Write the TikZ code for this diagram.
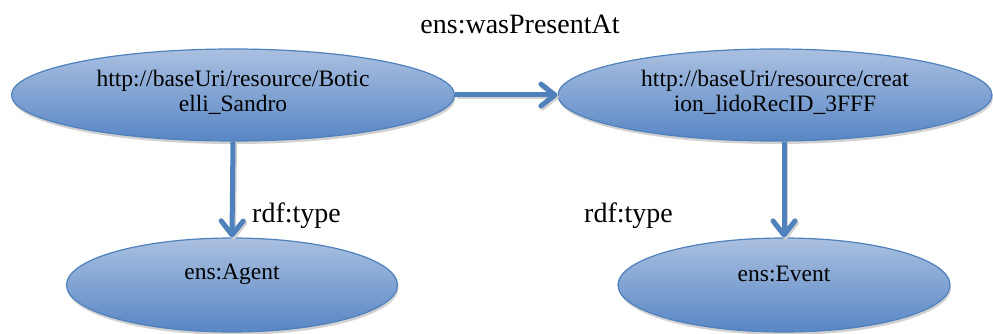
\documentclass[tikz,border=0pt]{standalone}
\usepackage{fontspec}
\setmainfont{Liberation Serif}
\usetikzlibrary{arrows.meta,shadows,shapes.geometric}
\definecolor{accent}{RGB}{79,129,189}
\definecolor{topblue}{RGB}{170,192,224}
\definecolor{botblue}{RGB}{88,134,197}
\tikzset{
  blob/.style={ellipse, draw=accent, line width=1.2pt, top color=topblue, bottom color=botblue,
    inner sep=0pt,
    drop shadow={shadow xshift=1pt, shadow yshift=-3pt, fill=black, opacity=0.18}},
  blobtext/.style={align=center, font=\fontsize{23.5}{25}\selectfont, inner sep=0pt},
  edgelabel/.style={font=\fontsize{28}{30}\selectfont, inner sep=0pt},
  link/.style={draw=accent, line width=5pt,
    -{Straight Barb[length=14pt, width=22pt, line cap=round, line join=round]},
    preaction={draw=black!18, line width=5pt, transform canvas={xshift=1.5pt, yshift=-2pt},
      -{Straight Barb[length=14pt, width=22pt, line cap=round, line join=round]}}}
}
\begin{document}
\begin{tikzpicture}[x=1pt,y=-1pt]
\useasboundingbox (0,0) rectangle (993,334);
\node[blob, minimum width=443pt, minimum height=92pt] (e1) at (233,95) {};
\node[blob, minimum width=434pt, minimum height=92pt] (e2) at (775,95) {};
\node[blob, minimum width=331pt, minimum height=94pt] (e3) at (232,285) {};
\node[blob, minimum width=332pt, minimum height=94pt] (e4) at (784,285) {};
\node[blobtext] (t1) at (233,92) {http://baseUri/resource/Botic\\elli\_Sandro};
\node[blobtext] (t2) at (775,92) {http://baseUri/resource/creat\\ion\_lidoRecID\_3FFF};
\node[blobtext] (t3) at (232,274) {ens:Agent};
\node[blobtext] (t4) at (784,274) {ens:Event};
\draw[link] (e1.east) -- (e2.west);
\draw[link] (e1.south) -- (e3.north);
\draw[link] (e2.south -| e4.north) -- (e4.north);
\node[edgelabel] (l1) at (520,24) {ens:wasPresentAt};
\node[edgelabel, anchor=west] (l2) at (252,216) {rdf:type};
\node[edgelabel, anchor=west] (l3) at (584,216) {rdf:type};
\end{tikzpicture}
\end{document}
